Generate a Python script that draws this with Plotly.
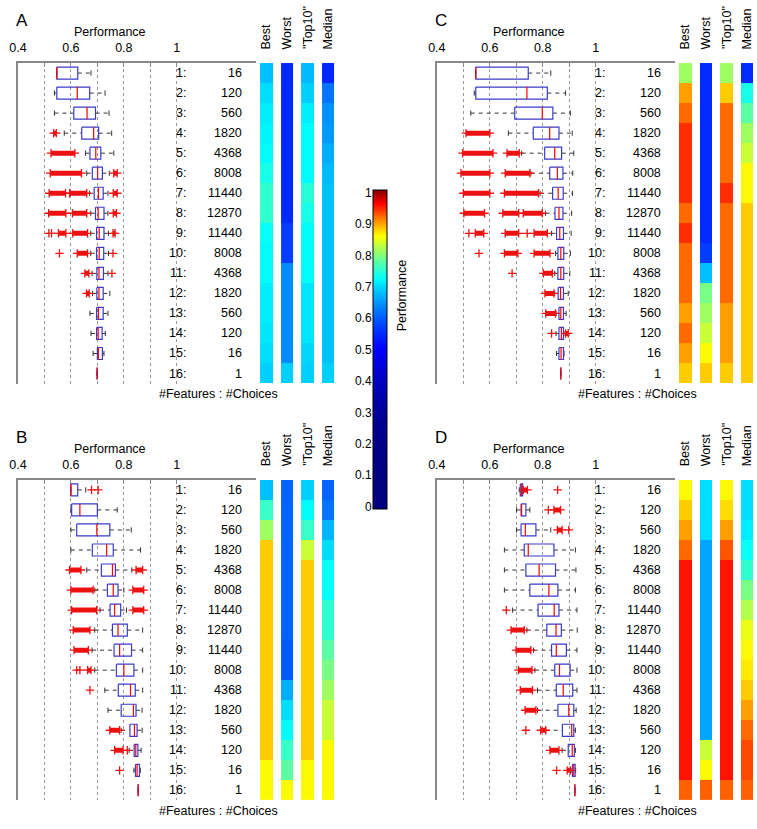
import plotly.graph_objects as go
import numpy as np

W, H = 757, 829
FONT = "Liberation Sans, Arial, Helvetica, sans-serif"

# ---------------- shared categories / labels ----------------
features = list(range(1, 17))
choices = [16, 120, 560, 1820, 4368, 8008, 11440, 12870, 11440, 8008, 4368, 1820, 560, 120, 16, 1]
col_labels = ["Best", "Worst", "\"Top10\"", "Median"]
x_tickvals = [0.4, 0.5, 0.6, 0.7, 0.8, 0.9, 1.0]
x_ticktext = ["0.4", "", "0.6", "", "0.8", "", "1"]
cbar_tickvals = [0, 0.1, 0.2, 0.3, 0.4, 0.5, 0.6, 0.7, 0.8, 0.9, 1.0]
cbar_ticktext = ["0", "0.1", "0.2", "0.3", "0.4", "0.5", "0.6", "0.7", "0.8", "0.9", "1"]

# ---------------- Panel A ----------------
A_q1 = [.547, .547, .611, .641, .672, .681, .688, .693, .697, .697, .698, .698, .697, .697, .700, .699]
A_med = [.547, .624, .661, .686, .694, .701, .704, .703, .707, .707, .706, .706, .704, .703, .704, .699]
A_q3 = [.626, .671, .693, .705, .713, .719, .722, .725, .725, .724, .723, .722, .722, .718, .719, .699]
A_wlo = [.547, .538, .538, .575, .655, .660, .670, .675, .675, .675, .680, .682, .672, .676, .684, .699]
A_whi = [.676, .729, .744, .754, .762, .745, .740, .740, .742, .742, .740, .747, .740, .730, .725, .699]
A_out_ranges = [[], [], [], [(.535, .545)], [(.525, .615)], [(.522, .640), (.762, .775)],
                [(.518, .580), (.595, .660), (.760, .775)], [(.516, .581), (.606, .660), (.760, .772)],
                [(.553, .581), (.607, .663), (.759, .767)], [(.624, .663)], [(.653, .668)], [(.659, .669)],
                [], [], [], []]
A_out_pts = [[], [], [], [], [], [], [], [], [.517, .527], [.557, .759], [.755], [], [], [], [], []]
A_best = [.68, .70, .71, .715, .72, .735, .75, .75, .725, .72, .72, .71, .71, .705, .70, .69]
A_worst = [.55, .55, .55, .55, .55, .55, .55, .55, .57, .57, .64, .64, .64, .64, .64, .69]
A_top10 = [.675, .69, .71, .72, .72, .72, .745, .735, .72, .72, .72, .705, .705, .705, .695, .69]
A_median = [.547, .62, .645, .65, .665, .675, .68, .68, .68, .68, .68, .68, .68, .68, .68, .69]

# ---------------- Panel B ----------------
B_q1 = [.600, .603, .622, .681, .715, .738, .748, .757, .763, .772, .779, .790, .823, .839, .844, .854]
B_med = [.600, .634, .698, .735, .757, .760, .765, .778, .784, .800, .825, .836, .840, .845, .850, .854]
B_q3 = [.626, .700, .747, .760, .768, .778, .788, .813, .829, .838, .843, .846, .850, .853, .859, .854]
B_wlo = [.600, .600, .600, .600, .660, .690, .710, .690, .680, .690, .728, .740, .790, .820, .838, .854]
B_whi = [.656, .775, .828, .863, .830, .800, .810, .871, .871, .871, .871, .869, .869, .865, .862, .854]
B_out_ranges = [[], [], [], [], [(.595, .638), (.846, .871)], [(.600, .684), (.834, .875)],
                [(.603, .697), (.834, .875)], [(.609, .672)], [(.612, .666)], [(.663, .676)], [], [],
                [(.747, .784)], [(.765, .797)], [], []]
B_out_pts = [[.678, .703], [], [], [], [], [], [], [], [], [.622, .634], [.672], [], [], [.813], [.784], []]
B_best = [.68, .755, .81, .877, .877, .877, .877, .877, .877, .877, .877, .877, .877, .877, .855, .855]
B_worst = [.605, .605, .605, .605, .605, .605, .605, .605, .595, .595, .665, .70, .72, .755, .775, .855]
B_top10 = [.69, .72, .755, .83, .877, .877, .877, .877, .877, .877, .877, .877, .877, .877, .855, .855]
B_median = [.605, .62, .67, .70, .725, .725, .75, .75, .775, .79, .81, .83, .83, .855, .855, .855]

# ---------------- Panel C ----------------
C_q1 = [.547, .547, .694, .764, .807, .826, .837, .846, .852, .857, .857, .858, .861, .861, .861, .868]
C_med = [.547, .740, .798, .826, .845, .855, .858, .861, .864, .868, .868, .867, .868, .870, .869, .868]
C_q3 = [.745, .817, .838, .861, .871, .876, .877, .876, .878, .879, .879, .878, .878, .878, .878, .868]
C_wlo = [.547, .541, .528, .670, .720, .755, .790, .810, .833, .848, .845, .845, .850, .850, .852, .868]
C_whi = [.830, .886, .904, .911, .917, .913, .912, .909, .907, .904, .902, .896, .888, .884, .880, .868]
C_out_ranges = [[], [], [], [(.510, .600)], [(.497, .612), (.665, .711)], [(.491, .600), (.658, .751)],
                [(.500, .600), (.655, .784)], [(.502, .580), (.649, .709), (.726, .798)],
                [(.545, .577), (.658, .709), (.767, .817)], [(.655, .706), (.767, .827)], [(.802, .836)],
                [(.808, .842)], [(.811, .848)], [(.886, .896)], [], []]
C_out_pts = [[], [], [], [], [], [], [], [], [.521, .741], [.559], [.684], [], [], [.833], [], []]
C_best = [.81, .896, .917, .94, .94, .94, .94, .917, .94, .917, .917, .917, .896, .917, .896, .877]
C_worst = [.55, .55, .55, .55, .55, .55, .55, .55, .55, .57, .68, .79, .81, .83, .855, .877]
C_top10 = [.81, .877, .917, .917, .917, .917, .94, .917, .917, .917, .917, .917, .896, .896, .896, .877]
C_median = [.55, .735, .775, .81, .83, .855, .855, .877, .877, .877, .877, .877, .877, .877, .877, .877]

# ---------------- Panel D ----------------
D_q1 = [.715, .718, .718, .730, .736, .751, .782, .815, .833, .845, .851, .857, .874, .896, .912, .921]
D_med = [.720, .720, .734, .745, .786, .823, .843, .850, .851, .863, .877, .898, .909, .911, .917, .921]
D_q3 = [.724, .736, .774, .842, .848, .857, .861, .870, .889, .903, .913, .917, .917, .919, .922, .921]
D_wlo = [.711, .701, .701, .655, .655, .655, .686, .740, .765, .770, .780, .780, .811, .873, .910, .921]
D_whi = [.728, .751, .830, .923, .925, .923, .929, .930, .929, .929, .929, .926, .923, .923, .924, .921]
D_out_ranges = [[(.726, .742)], [(.842, .867)], [(.855, .873)], [], [], [], [], [(.680, .730)],
                [(.699, .755)], [(.708, .759)], [(.715, .761)], [(.733, .774)], [(.792, .811)],
                [(.827, .861)], [(.892, .904)], []]
D_out_pts = [[.856], [.821], [.898], [], [], [], [.662], [], [], [], [], [], [.736], [], [.852], []]
D_best = [.855, .877, .896, .917, .95, .95, .95, .95, .95, .95, .95, .95, .95, .95, .95, .921]
D_worst = [.70, .70, .70, .66, .66, .66, .66, .66, .66, .66, .66, .66, .66, .83, .855, .921]
D_top10 = [.855, .87, .896, .925, .95, .95, .95, .95, .95, .95, .95, .95, .95, .95, .95, .921]
D_median = [.70, .70, .71, .725, .75, .79, .82, .845, .855, .865, .877, .896, .917, .93, .93, .921]

panels = [
    ("A", 0, 0, A_q1, A_med, A_q3, A_wlo, A_whi, A_out_ranges, A_out_pts, A_best, A_worst, A_top10, A_median),
    ("B", 0, 424, B_q1, B_med, B_q3, B_wlo, B_whi, B_out_ranges, B_out_pts, B_best, B_worst, B_top10, B_median),
    ("C", 424, 0, C_q1, C_med, C_q3, C_wlo, C_whi, C_out_ranges, C_out_pts, C_best, C_worst, C_top10, C_median),
    ("D", 424, 424, D_q1, D_med, D_q3, D_wlo, D_whi, D_out_ranges, D_out_pts, D_best, D_worst, D_top10, D_median),
]


def px_x(p):
    return p / W


def px_y(p):
    return 1 - p / H


# jet colormap applied to v^3 (as in the reference colorbar)
def jet(t):
    r = min(max(1.5 - abs(4 * t - 3), 0), 1)
    g = min(max(1.5 - abs(4 * t - 2), 0), 1)
    b = min(max(1.5 - abs(4 * t - 1), 0), 1)
    return "rgb(%d,%d,%d)" % (round(r * 255), round(g * 255), round(b * 255))


colorscale = [[v, jet(v ** 3)] for v in np.linspace(0, 1, 121)]

fig = go.Figure()
annotations = []
layout_axes = {}

HALF = 0.3
CAP = 0.13
BOXC = "#3a3acc"

for k, (name, dx, dy, q1, med, q3, wlo, whi, oranges, opts, best, worst, top10, median) in enumerate(panels):
    bi = 2 * k + 1
    hi_ = 2 * k + 2
    bx = "x" if bi == 1 else "x%d" % bi
    by = "y" if bi == 1 else "y%d" % bi
    hx = "x%d" % hi_
    hy = "y%d" % hi_

    wx, wy, cx, cy, rx, ry, mx, my, ox, oy, px_, py_ = ([] for _ in range(12))
    for i, f in enumerate(features):
        y = f
        wx += [wlo[i], q1[i], None, q3[i], whi[i], None]
        wy += [y, y, None, y, y, None]
        cx += [wlo[i], wlo[i], None, whi[i], whi[i], None]
        cy += [y - CAP, y + CAP, None, y - CAP, y + CAP, None]
        rx += [q1[i], q3[i], q3[i], q1[i], q1[i], None]
        ry += [y - HALF, y - HALF, y + HALF, y + HALF, y - HALF, None]
        mx += [med[i], med[i], None]
        my += [y - HALF, y + HALF, None]
        for lo, hi in oranges[i]:
            ox += [lo, hi, None]
            oy += [y, y, None]
            px_ += [lo, hi]
            py_ += [y, y]
        for p in opts[i]:
            px_.append(p)
            py_.append(y)

    common = dict(xaxis=bx, yaxis=by, hoverinfo="skip", showlegend=False, mode="lines")
    fig.add_trace(go.Scatter(x=wx, y=wy, line=dict(color="#333333", width=1, dash="4px,4px"), **common))
    fig.add_trace(go.Scatter(x=cx, y=cy, line=dict(color="#333333", width=1), **common))
    fig.add_trace(go.Scatter(x=rx, y=ry, line=dict(color=BOXC, width=1.2), **common))
    fig.add_trace(go.Scatter(x=ox, y=oy, line=dict(color="#ee1111", width=5), **common))
    fig.add_trace(go.Scatter(x=px_, y=py_, mode="markers", xaxis=bx, yaxis=by, hoverinfo="skip",
                             showlegend=False,
                             marker=dict(symbol="cross-thin", size=6, line=dict(color="#ee1111", width=1.3))))
    fig.add_trace(go.Scatter(x=mx, y=my, line=dict(color="#ff0000", width=1.2), **common))

    z = [[best[i], worst[i], top10[i], median[i]] for i in range(16)]
    fig.add_trace(go.Heatmap(z=z, x=[0, 1, 2, 3], y=features, coloraxis="coloraxis", xgap=8,
                             xaxis=hx, yaxis=hy, hoverinfo="skip"))

    xd = [px_x(9 + dx), px_x(250 + dx)]
    yd = [px_y(383 + dy), px_y(57 + dy)]
    bkey_x = "xaxis" if bi == 1 else "xaxis%d" % bi
    bkey_y = "yaxis" if bi == 1 else "yaxis%d" % bi
    layout_axes[bkey_x] = dict(domain=xd, range=[0.4, 1.299], side="top", anchor=by,
                               tickvals=x_tickvals, ticktext=x_ticktext, ticks="inside", ticklen=4,
                               tickcolor="#888888", showline=True, linecolor="#888888", linewidth=1.5,
                               showgrid=True, gridcolor="#999999", griddash="dot", gridwidth=1,
                               zeroline=False, tickfont=dict(size=12.5, color="black", family=FONT),
                               ticklabelstandoff=4, fixedrange=True)
    layout_axes[bkey_y] = dict(domain=yd, range=[16.5, 0.5], anchor=bx, showticklabels=False, ticks="",
                               showline=True, linecolor="#888888", linewidth=1.5, showgrid=False,
                               zeroline=False, fixedrange=True)
    layout_axes["xaxis%d" % hi_] = dict(domain=[px_x(250 + dx), px_x(333 + dx)], range=[-0.5, 3.5],
                                        anchor=hy, visible=False, fixedrange=True)
    layout_axes["yaxis%d" % hi_] = dict(domain=yd, range=[16.5, 0.5], anchor=hx, visible=False,
                                        fixedrange=True)

    f12 = dict(size=12.5, color="black", family=FONT)
    annotations.append(dict(text=name, x=px_x(13 + dx), y=px_y(14 + dy), xref="paper", yref="paper",
                            showarrow=False, xanchor="center", yanchor="middle",
                            font=dict(size=17, color="black", family=FONT)))
    annotations.append(dict(text="Performance", x=px_x(102 + dx), y=px_y(25.5 + dy), xref="paper",
                            yref="paper", showarrow=False, xanchor="center", yanchor="middle", font=f12))
    annotations.append(dict(text="#Features : #Choices", x=px_x(212 + dx), y=px_y(394 + dy), xref="paper",
                            yref="paper", showarrow=False, xanchor="center", yanchor="middle", font=f12))
    for j, lab in enumerate(col_labels):
        cxp = 250 + dx + 20.75 * (j + 0.5)
        annotations.append(dict(text=lab, x=px_x(cxp), y=px_y(45 + dy), xref="paper", yref="paper",
                                showarrow=False, textangle=-90, xanchor="center", yanchor="bottom",
                                font=f12))
    for i, f in enumerate(features):
        annotations.append(dict(text="%d:" % f, x=px_x(181 + dx), y=f, xref="paper", yref=by,
                                showarrow=False, xanchor="right", yanchor="middle", font=f12))
        annotations.append(dict(text=str(choices[i]), x=px_x(238 + dx), y=f, xref="paper", yref=by,
                                showarrow=False, xanchor="right", yanchor="middle", font=f12))

# colorbar tick-label axis
fig.add_trace(go.Scatter(x=[], y=[], xaxis="x9", yaxis="y9", showlegend=False))
layout_axes["xaxis9"] = dict(domain=[px_x(368), px_x(382)], range=[0, 1], anchor="y9", visible=False,
                             fixedrange=True)
layout_axes["yaxis9"] = dict(domain=[px_y(508), px_y(189)], range=[0, 1], anchor="x9", side="left",
                             tickvals=cbar_tickvals, ticktext=cbar_ticktext, ticks="", showline=False,
                             showgrid=False, zeroline=False,
                             tickfont=dict(size=12, color="black", family=FONT), fixedrange=True)
annotations.append(dict(text="Performance", x=px_x(398), y=px_y(293), xref="paper", yref="paper",
                        showarrow=False, textangle=-90, xanchor="center", yanchor="middle",
                        font=dict(size=12.5, color="black", family=FONT)))

fig.update_layout(
    width=W, height=H, margin=dict(l=0, r=0, t=0, b=0),
    paper_bgcolor="white", plot_bgcolor="rgba(0,0,0,0)",
    font=dict(family=FONT, size=12.5, color="black"),
    showlegend=False,
    coloraxis=dict(colorscale=colorscale, cmin=0, cmax=1,
                   colorbar=dict(thickness=14, thicknessmode="pixels", len=319, lenmode="pixels",
                                 x=px_x(368), xanchor="left", y=px_y(348.5), yanchor="middle",
                                 xpad=0, ypad=0, showticklabels=False, ticks="",
                                 outlinecolor="black", outlinewidth=1)),
    annotations=annotations,
    **layout_axes,
)

fig.write_html("out.html", config={"displayModeBar": False},
               post_script="document.body.style.margin='0px';document.body.style.overflow='hidden';")
